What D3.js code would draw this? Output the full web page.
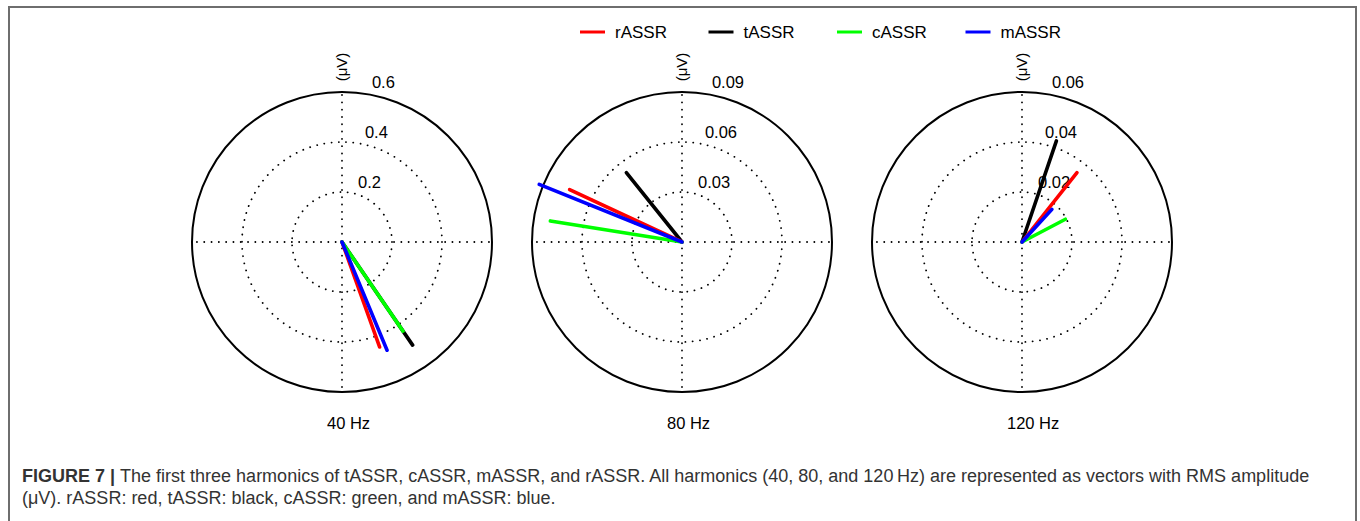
<!DOCTYPE html>
<html>
<head>
<meta charset="utf-8">
<script src="https://cdn.jsdelivr.net/npm/d3@7"></script>
<style>
  body { margin: 0; background: #fff; }
  svg { display: block; font-family: "Liberation Sans", Arial, sans-serif; }
</style>
</head>
<body>
<svg id="chart" width="1360" height="521"></svg>
<script>
// harmonics (one polar panel each)
var harmonics = ["40 Hz", "80 Hz", "120 Hz"];
var rMax = [0.6, 0.09, 0.06];
var tickVals = [[0.2, 0.4, 0.6], [0.03, 0.06, 0.09], [0.02, 0.04, 0.06]];
var tickLabels = [["0.2", "0.4", "0.6"], ["0.03", "0.06", "0.09"], ["0.02", "0.04", "0.06"]];

// series, drawn in this order (black first, blue on top)
var seriesNames = ["tASSR", "rASSR", "cASSR", "mASSR"];
var legendNames = ["rASSR", "tASSR", "cASSR", "mASSR"];
var seriesColors = {rASSR: "#ff0000", tASSR: "#000000", cASSR: "#00ff00", mASSR: "#0000ff"};

// RMS amplitude (uV) and phase (deg, counter-clockwise from east) per harmonic
var rAmp = [0.446, 0.0744, 0.0354];
var rAng = [-70.3, 155.0, 51.6];
var tAmp = [0.500, 0.0534, 0.0427];
var tAng = [-55.6, 128.7, 71.2];
var cAmp = [0.432, 0.0800, 0.0196];
var cAng = [-55.6, 170.9, 27.7];
var mAmp = [0.469, 0.0924, 0.0177];
var mAng = [-67.4, 158.0, 47.5];

var vectors = {
  rASSR: {amp: rAmp, ang: rAng},
  tASSR: {amp: tAmp, ang: tAng},
  cASSR: {amp: cAmp, ang: cAng},
  mASSR: {amp: mAmp, ang: mAng}
};

var svg = d3.select("#chart");
svg.append("rect").attr("width", 1360).attr("height", 521).attr("fill", "#fff");

// figure frame (open at the bottom)
svg.append("path")
  .attr("d", "M9,521 V7 H1356 V521")
  .attr("fill", "none")
  .attr("stroke", "#6e6e6e")
  .attr("stroke-width", 2);

var R = 150, cy = 242;
var centers = [342, 682, 1022];
var toRad = Math.PI / 180;

harmonics.forEach(function(h, i) {
  var g = svg.append("g").attr("transform", "translate(" + centers[i] + "," + cy + ")");
  var r = d3.scaleLinear().domain([0, rMax[i]]).range([0, R]);

  // dotted rings
  g.selectAll(".ring")
    .data(tickVals[i].slice(0, -1))
    .enter().append("circle")
    .attr("r", function(d) { return r(d); })
    .attr("fill", "none")
    .attr("stroke", "#000")
    .attr("stroke-width", 1.8)
    .attr("stroke-linecap", "round")
    .attr("stroke-dasharray", "0.1 7.2");

  // dotted spokes
  [0, 90].forEach(function(a) {
    var rad = d3.lineRadial()
      .angle(function(d) { return d.a * toRad; })
      .radius(function(d) { return r(d.v); });
    g.append("path")
      .attr("d", rad([{a: a, v: rMax[i] * 0.98}, {a: a + 180, v: rMax[i] * 0.98}]))
      .attr("fill", "none")
      .attr("stroke", "#000")
      .attr("stroke-width", 1.8)
      .attr("stroke-linecap", "round")
      .attr("stroke-dasharray", "0.1 7.2");
  });

  // outer circle
  g.append("circle")
    .attr("r", r(rMax[i]))
    .attr("fill", "none")
    .attr("stroke", "#000")
    .attr("stroke-width", 2);

  // tick labels along an 82 deg ray
  g.selectAll(".tick")
    .data(tickVals[i])
    .enter().append("text")
    .attr("x", function(d) { return r(d) * Math.cos(82 * toRad) + 9; })
    .attr("y", function(d) { return -r(d) * Math.sin(82 * toRad) - 5; })
    .attr("font-size", 16.5)
    .attr("fill", "#000")
    .text(function(d, k) { return tickLabels[i][k]; });

  // unit label
  g.append("text")
    .attr("transform", "translate(5," + (-175) + ") rotate(-90)")
    .attr("text-anchor", "middle")
    .attr("font-size", 15)
    .text("(\u03bcV)");

  // vectors
  var line = d3.lineRadial()
    .angle(function(d) { return (90 - d.ang) * toRad; })
    .radius(function(d) { return r(d.amp); });
  seriesNames.forEach(function(s) {
    g.append("path")
      .attr("d", line([{amp: 0, ang: 0}, {amp: vectors[s].amp[i], ang: vectors[s].ang[i]}]))
      .attr("fill", "none")
      .attr("stroke", seriesColors[s])
      .attr("stroke-width", 3.6)
      .attr("stroke-linecap", "round");
  });

  // panel title
  svg.append("text")
    .attr("x", centers[i] - 15)
    .attr("y", 429)
    .attr("font-size", 16.5)
    .attr("fill", "#000")
    .text(h);
});

// legend
var leg = svg.append("g");
legendNames.forEach(function(s, k) {
  var x0 = 580 + k * 128.5;
  leg.append("line")
    .attr("x1", x0).attr("x2", x0 + 25)
    .attr("y1", 32).attr("y2", 32)
    .attr("stroke", seriesColors[s])
    .attr("stroke-width", 3);
  leg.append("text")
    .attr("x", x0 + 35)
    .attr("y", 38)
    .attr("font-size", 17)
    .text(s);
});

// caption
var cap = svg.append("text")
  .attr("x", 22)
  .attr("y", 482)
  .attr("font-size", 18)
  .attr("fill", "#333");
cap.append("tspan").attr("font-weight", "bold").text("FIGURE 7 | ");
cap.append("tspan").text("The first three harmonics of tASSR, cASSR, mASSR, and rASSR. All harmonics (40, 80, and 120\u2009Hz) are represented as vectors with RMS amplitude");
svg.append("text")
  .attr("x", 22)
  .attr("y", 504)
  .attr("font-size", 18)
  .attr("fill", "#333")
  .text("(\u03bcV). rASSR: red, tASSR: black, cASSR: green, and mASSR: blue.");
</script>
</body>
</html>
